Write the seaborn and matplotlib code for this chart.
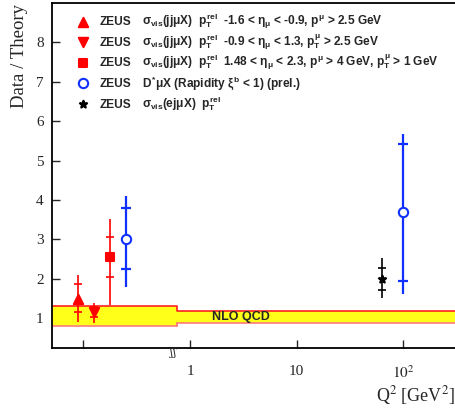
import numpy as np
import pandas as pd
import matplotlib
matplotlib.use("Agg")
import matplotlib.pyplot as plt
import seaborn as sns

# ---------------- data ----------------
series = ["jj_bwd", "jj_cen", "jj_fwd", "dstar", "dstar", "ej"]
q2 = [0.09, 0.126, 0.178, 0.251, 100.0, 62.6]          # photoproduction points drawn left of the axis break
ratio = [1.476, 1.15, 2.55, 3.02, 3.70, 1.98]
stat_lo = [1.16, 1.02, 2.04, 2.25, 1.95, 1.71]
stat_hi = [1.86, 1.27, 3.07, 3.80, 5.42, 2.26]
tot_lo = [0.905, 0.865, 1.33, 1.80, 1.61, 1.50]
tot_hi = [2.09, 1.39, 3.51, 4.10, 5.68, 2.52]

band_x = [0.0508, 0.75, 305.0]
band_lo = [0.80, 0.88, 0.88]
band_hi = [1.305, 1.186, 1.186]

legend_labels = [
    r"$\sigma_{vis}$(jj$\mu$X)  $p_{T}^{rel}$  -1.6 < $\eta_{\mu}$ < -0.9, $p^{\mu}$ > 2.5 GeV",
    r"$\sigma_{vis}$(jj$\mu$X)  $p_{T}^{rel}$  -0.9 < $\eta_{\mu}$ < 1.3, $p_{T}^{\mu}$ > 2.5 GeV",
    r"$\sigma_{vis}$(jj$\mu$X)  $p_{T}^{rel}$  1.48 < $\eta_{\mu}$ < 2.3, $p^{\mu}$ > 4 GeV, $p_{T}^{\mu}$ > 1 GeV",
    r"$D^{*}\mu$X (Rapidity $\xi^{b}$ < 1) (prel.)",
    r"$\sigma_{vis}$(ej$\mu$X)  $p_{T}^{rel}$",
]
legend_keys = ["jj_bwd", "jj_cen", "jj_fwd", "dstar", "ej"]

xticks = [0.1, 1, 10, 100]
xticklabels = ["", "1", "10", r"$10^{2}$"]
yticks = [1, 2, 3, 4, 5, 6, 7, 8]

# ---------------- styles ----------------
style = {
    "jj_bwd": dict(marker="^", color="#ff0000", face="#ff0000", s=45, lw=1.2, cap=3),
    "jj_cen": dict(marker="v", color="#ff0000", face="#ff0000", s=45, lw=1.2, cap=3),
    "jj_fwd": dict(marker="s", color="#ff0000", face="#ff0000", s=38, lw=1.2, cap=3),
    "dstar": dict(marker="o", color="#1030ff", face="white", s=45, lw=1.6, cap=3.5),
    "ej": dict(marker="*", color="black", face="black", s=30, lw=1.2, cap=3),
}

sns.set_style("ticks")
plt.rcParams["font.family"] = ["Liberation Serif", "DejaVu Serif"]
plt.rcParams["mathtext.fontset"] = "custom"
plt.rcParams["mathtext.rm"] = "Liberation Sans:bold"
plt.rcParams["mathtext.it"] = "Liberation Sans:bold"
plt.rcParams["mathtext.bf"] = "Liberation Sans:bold"
plt.rcParams["mathtext.sf"] = "Liberation Sans:bold"

df = pd.DataFrame(dict(series=series, q2=q2, ratio=ratio, stat_lo=stat_lo,
                       stat_hi=stat_hi, tot_lo=tot_lo, tot_hi=tot_hi))

fig = plt.figure(figsize=(4.55, 4.09), dpi=100)
ax = fig.add_axes([52 / 455, 61 / 409, 403 / 455, 345 / 409])
ax.set_xscale("log")
ax.set_xlim(band_x[0], band_x[-1])
ax.set_ylim(0.24, 9.0)

# NLO band
ax.fill_between(band_x, band_lo, band_hi, step="post", color="#ffff1a", lw=0, zorder=1)
ax.step(band_x, band_hi, where="post", color="#ff2020", lw=1.2, zorder=2)
ax.step(band_x, band_lo, where="post", color="#ff7a7a", lw=1.2, zorder=2)
ax.plot([band_x[1], band_x[1]], [band_lo[0], band_lo[1]], color="#ff7a7a", lw=1.2, zorder=2)
ax.text(3.0, 1.03, "NLO QCD", family="Liberation Sans", weight="bold",
        fontsize=9, ha="center", va="center", zorder=3)

# data points with total error line and stat ticks
for key, sub in df.groupby("series", sort=False):
    st = style[key]
    y = sub["ratio"].to_numpy()
    ax.errorbar(sub["q2"], y, yerr=[y - sub["tot_lo"], sub["tot_hi"] - y],
                fmt="none", ecolor=st["color"], elinewidth=st["lw"], capsize=0, zorder=4)
    ax.errorbar(sub["q2"], y, yerr=[y - sub["stat_lo"], sub["stat_hi"] - y],
                fmt="none", ecolor=st["color"], elinewidth=0, capsize=st["cap"],
                capthick=st["lw"], zorder=4)
    sns.scatterplot(data=sub, x="q2", y="ratio", marker=st["marker"], s=st["s"],
                    color=st["face"], edgecolor=st["color"], linewidth=1.5,
                    ax=ax, zorder=5, legend=False)

# axes styling
ax.set_xticks(xticks)
ax.set_xticklabels(xticklabels)
ax.xaxis.set_minor_locator(matplotlib.ticker.NullLocator())
ax.set_yticks(yticks)
ax.set_yticklabels([str(v) for v in yticks])
ax.tick_params(direction="in", length=6, width=1, labelsize=11, pad=6)
ax.tick_params(axis="x", pad=12)
for sp in ["left", "bottom", "top"]:
    ax.spines[sp].set_linewidth(1.3)
    ax.spines[sp].set_color("black")
ax.spines["right"].set_visible(False)
ax.set_xlabel("")
ax.set_ylabel("")
for lab in ax.get_xticklabels():
    lab.set_family("Liberation Serif")
    lab.set_math_fontfamily("stix")

fig.text(20 / 455, 1 - 4 / 409, "Data / Theory", rotation=90, ha="center", va="top",
         fontsize=13.5, family="Liberation Serif")
fig.text(455 / 455, 1 - 401 / 409, r"Q$^{2}$ [GeV$^{2}$]", ha="right", va="baseline",
         fontsize=13, family="Liberation Serif", math_fontfamily="stix")

# axis break mark
ax.text(0.69, 0.24, "ʃʃ", fontsize=8, ha="center", va="top", family="DejaVu Serif")

# legend (manual)
rows_px = [21.7, 42.2, 62.7, 83.3, 104.0]
for key, lab, py in zip(legend_keys, legend_labels, rows_px):
    st = style[key]
    ya = 1 - (py - 3) / 345
    yb = 1 - (py + 3.5 - 3) / 345
    ax.scatter([(83 - 52) / 403], [ya], marker=st["marker"], s=st["s"],
               color=st["face"], edgecolor=st["color"], linewidth=1.5,
               transform=ax.transAxes, zorder=6, clip_on=False)
    ax.text((100 - 52) / 403, yb, "ZEUS", transform=ax.transAxes, family="Liberation Sans",
            weight="bold", fontsize=8.6, va="baseline", ha="left")
    ax.text((142 - 52) / 403, yb, lab, transform=ax.transAxes, family="Liberation Sans",
            weight="bold", fontsize=8.6, va="baseline", ha="left")

fig.savefig("out.png", dpi=100)
